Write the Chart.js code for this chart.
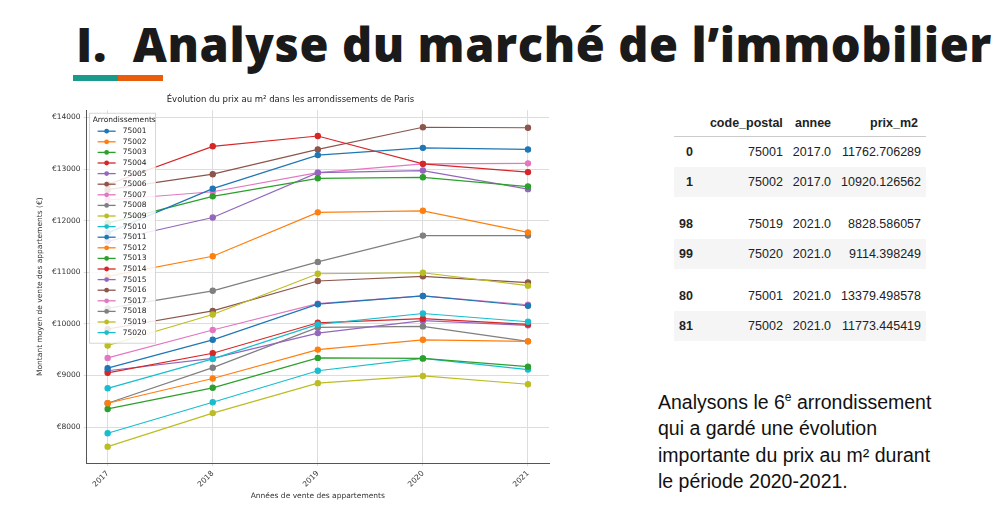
<!DOCTYPE html>
<html><head><meta charset="utf-8">
<script src="https://cdn.jsdelivr.net/npm/chart.js@4"></script>
<style>
body{margin:0;width:1003px;height:527px;background:#fff;position:relative;overflow:hidden;font-family:"Liberation Sans",Arial,sans-serif}
#title{position:absolute;left:76px;top:12px;font:800 47px "Open Sans",sans-serif;color:#1a1a1a;letter-spacing:0.6px;white-space:nowrap}
.bar{position:absolute;top:75px;height:6px;width:45px}
#cw{position:absolute;left:30px;top:93px;width:525px;height:412px}
table{border-collapse:collapse;font-size:12.5px;color:#222}
td,th{padding:0 5px;text-align:right;height:30px}
th{font-weight:bold;border-bottom:1px solid #ccc;height:26px}
td.i{font-weight:bold;padding-right:12px}
tr.g td{background:#f5f5f5}
#txt{position:absolute;left:658px;top:384px;font-size:19.5px;line-height:26.5px;color:#111}
</style></head><body>
<div id="title">I.&nbsp; Analyse du marché de l’immobilier</div>
<div class="bar" style="left:73px;background:#1a9a8a"></div>
<div class="bar" style="left:118px;background:#e85d0c"></div>
<div id="cw"><canvas id="c"></canvas></div>
<div style="position:absolute;left:674px;top:110px">
<table>
<tr><th></th><th>code_postal</th><th>annee</th><th style="padding-right:8px;padding-left:18px">prix_m2</th></tr>
<tr><td class="i">0</td><td>75001</td><td>2017.0</td><td>11762.706289</td></tr>
<tr class="g"><td class="i">1</td><td>75002</td><td>2017.0</td><td>10920.126562</td></tr>
<tr><td style="height:12px" colspan="4"></td></tr>
<tr><td class="i">98</td><td>75019</td><td>2021.0</td><td>8828.586057</td></tr>
<tr class="g"><td class="i">99</td><td>75020</td><td>2021.0</td><td>9114.398249</td></tr>
<tr><td style="height:12px" colspan="4"></td></tr>
<tr><td class="i">80</td><td>75001</td><td>2021.0</td><td>13379.498578</td></tr>
<tr class="g"><td class="i">81</td><td>75002</td><td>2021.0</td><td>11773.445419</td></tr>
</table></div>
<div id="txt">Analysons le 6<sup style="font-size:12px">e</sup> arrondissement<br>qui a gardé une évolution<br>importante du prix au m² durant<br>le période 2020-2021.</div>
<script>
const years=[2017,2018,2019,2020,2021];
const codes=['75001','75002','75003','75004','75005','75006','75007','75008','75009','75010','75011','75012','75013','75014','75015','75016','75017','75018','75019','75020'];
const p75001=[11763,12620,13270,13410,13379];
const p75002=[10920,11310,12160,12190,11773];
const p75003=[11950,12470,12820,12840,12660];
const p75004=[12700,13440,13640,13100,12940];
const p75005=[11600,12060,12930,12970,12610];
const p75006=[12600,12900,13380,13810,13800];
const p75007=[12400,12560,12930,13100,13110];
const p75008=[10300,10640,11200,11710,11710];
const p75009=[9580,10180,10970,10990,10740];
const p75010=[8750,9320,9990,10200,10040];
const p75011=[9140,9690,10380,10540,10350];
const p75012=[8460,8940,9500,9690,9660];
const p75013=[8350,8760,9340,9330,9170];
const p75014=[9050,9430,10020,10100,9990];
const p75015=[9090,9330,9820,10060,9970];
const p75016=[9900,10250,10830,10920,10800];
const p75017=[9340,9880,10390,10540,10370];
const p75018=[8460,9150,9930,9950,9660];
const p75019=[7620,8270,8850,8990,8829];
const p75020=[7880,8480,9090,9330,9114];
const series=[p75001,p75002,p75003,p75004,p75005,p75006,p75007,p75008,p75009,p75010,p75011,p75012,p75013,p75014,p75015,p75016,p75017,p75018,p75019,p75020];
const pal=['#1f77b4','#ff7f0e','#2ca02c','#d62728','#9467bd','#8c564b','#e377c2','#7f7f7f','#bcbd22','#17becf'];
const datasets=codes.map((c,i)=>({label:c,data:years.map((y,j)=>({x:y,y:series[i][j]})),borderColor:pal[i%10],backgroundColor:pal[i%10],borderWidth:1.2,pointRadius:2.6,pointHoverRadius:2.6}));
const legendPlugin={id:'inl',afterDraw(ch){const a=ch.chartArea,ctx=ch.ctx;const x=a.left+3,y=a.top+3,w=66,lh=10.6,h=18+lh*codes.length;
ctx.save();ctx.fillStyle='rgba(255,255,255,0.85)';ctx.strokeStyle='#ccc';ctx.lineWidth=0.8;ctx.fillRect(x,y,w,h);ctx.strokeRect(x,y,w,h);
ctx.fillStyle='#222';ctx.font='7.5px "DejaVu Sans"';ctx.textBaseline='middle';ctx.fillText('Arrondissements',x+3,y+7);
codes.forEach((c,i)=>{const yy=y+18+i*lh;ctx.strokeStyle=pal[i%10];ctx.lineWidth=1.3;ctx.beginPath();ctx.moveTo(x+8,yy);ctx.lineTo(x+26,yy);ctx.stroke();ctx.fillStyle=pal[i%10];ctx.beginPath();ctx.arc(x+17,yy,2.4,0,7);ctx.fill();ctx.fillStyle='#222';ctx.fillText(c,x+33,yy);});
ctx.restore();}};
new Chart(document.getElementById('c'),{type:'line',data:{datasets},plugins:[legendPlugin],
options:{responsive:true,maintainAspectRatio:false,animation:false,
layout:{padding:{left:2,right:6,top:0,bottom:0}},
plugins:{legend:{display:false},tooltip:{enabled:false},
title:{display:true,text:'Évolution du prix au m² dans les arrondissements de Paris',color:'#222',font:{family:'DejaVu Sans',size:8.5,weight:'normal'},padding:{top:2,bottom:5}}},
scales:{x:{type:'linear',min:2016.8,max:2021.2,afterBuildTicks(s){s.ticks=years.map(v=>({value:v}));},
ticks:{color:'#333',font:{family:'DejaVu Sans',size:7.5},maxRotation:45,minRotation:45,callback:v=>String(v)},
grid:{color:'#ddd',drawTicks:true,tickLength:3},border:{color:'#555',width:1},
title:{display:true,text:'Années de vente des appartements',color:'#333',font:{family:'DejaVu Sans',size:7.5},padding:{top:0}}},
y:{min:7300,max:14140,afterBuildTicks(s){s.ticks=[8000,9000,10000,11000,12000,13000,14000].map(v=>({value:v}));},
ticks:{color:'#333',font:{family:'DejaVu Sans',size:7.5},callback:v=>'€'+v},
grid:{color:'#ddd',tickLength:3},border:{color:'#555',width:1},
title:{display:true,text:'Montant moyen de vente des appartements (€)',color:'#333',font:{family:'DejaVu Sans',size:7.5}}}}}});
</script></body></html>
